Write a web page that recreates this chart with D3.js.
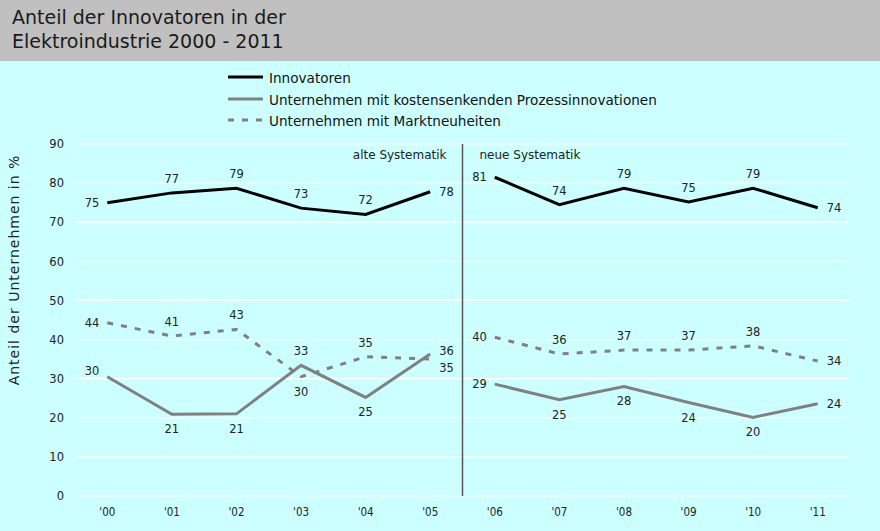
<!DOCTYPE html>
<html><head><meta charset="utf-8">
<script src="https://cdn.jsdelivr.net/npm/d3@7"></script>
<style>body{margin:0;background:#ccffff;}svg{display:block;font-family:"DejaVu Sans",Verdana,sans-serif;}</style>
</head><body><svg id="c" width="880" height="531"></svg>
<script>
const categories = ["'00","'01","'02","'03","'04","'05","'06","'07","'08","'09","'10","'11"];
const innovatoren = [75,77.5,78.7,73.6,72,77.8,81.5,74.5,78.7,75.2,78.7,73.7];
const prozess = [30.5,20.9,21,33.4,25.2,36.3,28.6,24.6,28,23.9,20.1,23.6];
const markt = [44.3,40.9,42.6,30.5,35.6,35,40.6,36.3,37.3,37.3,38.4,34.5];
const innoLabels = [75,77,79,73,72,78,81,74,79,75,79,74];
const prozessLabels = [30,21,21,33,25,36,29,25,28,24,20,24];
const marktLabels = [44,41,43,30,35,35,40,36,37,37,38,34];
const innoPos = ["left","above","above","above","above","right","left","above","above","above","above","right"];
const prozessPos = ["leftUp","below","below","above","below","rightUp","left","below","below","below","below","right"];
const marktPos = ["left","above","above","below","above","rightDown","left","above","above","above","above","right"];
const yTicks = [0,10,20,30,40,50,60,70,80,90];
const seriesNames = ["Innovatoren","Unternehmen mit kostensenkenden Prozessinnovationen","Unternehmen mit Marktneuheiten"];
const title = ["Anteil der Innovatoren in der","Elektroindustrie 2000 - 2011"];

const svg = d3.select("#c");
svg.append("rect").attr("width",880).attr("height",531).attr("fill","#ccffff");
svg.append("rect").attr("width",880).attr("height",61).attr("fill","#c0c0c0");
svg.selectAll("text.title").data(title).enter().append("text")
  .attr("x",12).attr("y",(d,i)=>24+i*23.5).attr("font-size",19).attr("fill","#1a1a1a").text(d=>d);

const x = d3.scaleBand().domain(categories).range([75,850]);
const cx = c => x(c)+x.bandwidth()/2;
const y = d3.scaleLinear().domain([0,90]).range([496,144]);

// grid
svg.append("g").selectAll("line").data(yTicks).enter().append("line")
  .attr("x1",75).attr("x2",850).attr("y1",d=>y(d)).attr("y2",d=>y(d))
  .attr("stroke","#ffffff").attr("stroke-width",1.2);

// y axis labels
const yAxis = d3.axisLeft(y).tickValues(yTicks).tickSize(0).tickPadding(0);
const ga = svg.append("g").attr("transform","translate(64,0)").call(yAxis);
ga.select(".domain").remove();
ga.selectAll("text").attr("font-size",11.5).attr("fill","#222").attr("font-family","DejaVu Sans, Verdana, sans-serif");

// x axis labels
const xAxis = d3.axisBottom(x).tickSize(0).tickPadding(0);
const gx = svg.append("g").attr("transform","translate(0,508)").call(xAxis);
gx.select(".domain").remove();
gx.selectAll("text").attr("font-size",11.5).attr("fill","#222").attr("font-family","DejaVu Sans Condensed, Liberation Sans Narrow, sans-serif");

// y title
svg.append("text").attr("transform","translate(19,270) rotate(-90)").attr("text-anchor","middle")
  .attr("font-size",14).attr("letter-spacing",1).attr("fill","#222").text("Anteil der Unternehmen in %");

// separator
const sepX = x(categories[6]);
svg.append("line").attr("x1",sepX).attr("x2",sepX).attr("y1",y(90)).attr("y2",y(0))
  .attr("stroke","#555").attr("stroke-width",1.5);
svg.append("text").attr("x",sepX-16).attr("y",159).attr("text-anchor","end").attr("font-size",12).attr("fill","#222").text("alte Systematik");
svg.append("text").attr("x",sepX+17).attr("y",159).attr("text-anchor","start").attr("font-size",12).attr("fill","#222").text("neue Systematik");

const series = [
  {vals:innovatoren, labels:innoLabels, pos:innoPos, color:"#000000", dash:null},
  {vals:prozess, labels:prozessLabels, pos:prozessPos, color:"#808080", dash:null},
  {vals:markt, labels:marktLabels, pos:marktPos, color:"#808080", dash:"6,8"}
];
const anchorOf = p => p.startsWith("left") ? "end" : p.startsWith("right") ? "start" : "middle";
const dxOf = p => p.startsWith("left") ? -8 : p.startsWith("right") ? 9 : 0;
const dyOf = {above:-10, below:19, left:4, right:4, leftUp:-2, rightUp:1, rightDown:13};
const line = d3.line().x(d=>cx(d.c)).y(d=>y(d.v));
series.forEach(s=>{
  const pts = categories.map((c,i)=>({c, v:s.vals[i], l:s.labels[i], p:s.pos[i]}));
  [pts.slice(0,6), pts.slice(6)].forEach(seg=>{
    svg.append("path").attr("d",line(seg)).attr("fill","none").attr("stroke",s.color)
      .attr("stroke-width",3).attr("stroke-dasharray",s.dash);
  });
  svg.append("g").selectAll("text").data(pts).enter().append("text")
    .attr("font-size",11.5).attr("fill","#222")
    .attr("text-anchor",d=>anchorOf(d.p))
    .attr("x",d=>cx(d.c)+dxOf(d.p))
    .attr("y",d=>y(d.v)+dyOf[d.p])
    .text(d=>d.l);
});

// legend
const lg = svg.append("g");
series.forEach((s,i)=>{
  const yy = [77,99,120][i];
  lg.append("line").attr("x1",228).attr("x2",263).attr("y1",yy).attr("y2",yy)
    .attr("stroke",s.color).attr("stroke-width",3).attr("stroke-dasharray",s.dash);
  lg.append("text").attr("x",269).attr("y",yy+6).attr("font-size",13.6).attr("fill","#111").text(seriesNames[i]);
});
</script></body></html>
